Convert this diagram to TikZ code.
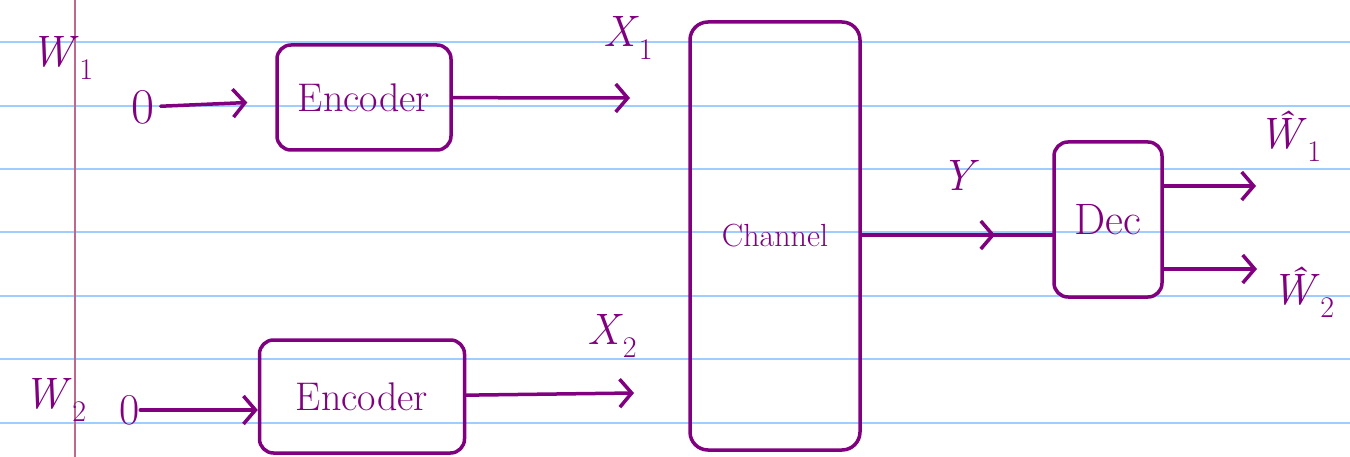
\documentclass[tikz,border=0pt]{standalone}
\usetikzlibrary{arrows.meta,decorations.markings}
\definecolor{ink}{RGB}{128,0,128}
\definecolor{ruled}{RGB}{160,205,255}
\definecolor{margin}{RGB}{190,105,140}
\newcommand{\lblsub}[1]{\raisebox{-0.3em}{\fontsize{30}{30}\selectfont #1}}
\tikzset{
  pen/.style={draw=ink, line width=3.5pt, line cap=round, line join=round},
  box/.style={pen, rectangle, inner sep=0pt, text=ink},
  lbl/.style={text=ink, inner sep=0pt, font=\fontsize{44}{44}\selectfont},
  wordtxt/.style={font=\fontsize{40}{40}\selectfont},
  arr/.style={pen, -{Straight Barb[length=12pt,width=28pt,line width=3.5pt]}},
}
\begin{document}
\begin{tikzpicture}[x=1pt,y=-1pt]
\useasboundingbox (0,0) rectangle (1350,457);
\fill[white] (0,0) rectangle (1350,457);
% ruled paper
\foreach \yy in {42.5,106,169,232.5,296,359,422.5}
  \draw[ruled, line width=2pt] (0,\yy) -- (1350,\yy);
\draw[margin, line width=1.5pt] (75,0) -- (75,457);

% top branch
\node[lbl] (w1) at (62,58) {\textit{W}\lblsub{1}};
\node[lbl, font=\fontsize{50}{50}\selectfont] (in1) at (143,107) {0};
\node[box, minimum width=174pt, minimum height=105pt, rounded corners=14pt, wordtxt] (enc1) at (364,97.5) {\raisebox{-12pt}{Encoder}};
\node[lbl] (x1) at (628,38) {\textit{X}\lblsub{1}};
\coordinate (a1) at (630,98);
\draw[arr, shorten <=6pt, shorten >=28pt] (in1) -- (enc1);
\draw[arr] (enc1) -- (a1);

% bottom branch
\node[lbl] (w2) at (55,400) {\textit{W}\lblsub{2}};
\node[lbl] (in2) at (130,410) {0};
\node[box, minimum width=205pt, minimum height=113pt, rounded corners=14pt, wordtxt] (enc2) at (362,396.5) {Encoder};
\node[lbl] (x2) at (612,336) {\textit{X}\lblsub{2}};
\coordinate (a2) at (634,393);
\draw[arr] (in2) -- (in2 -| enc2.west);
\draw[arr] (enc2) -- (a2);

% channel
\node[box, minimum width=170pt, minimum height=428pt, rounded corners=18pt, font=\fontsize{32}{32}\selectfont] (ch) at (775,236) {Channel};
\node[lbl] (y) at (960,175) {\textit{Y}};

% decoder
\node[box, minimum width=108pt, minimum height=155pt, rounded corners=14pt, font=\fontsize{44}{44}\selectfont] (dec) at (1108,219.5) {\raisebox{-10pt}{Dec}};
\draw[pen, decoration={markings, mark=at position 0.7 with {\arrow{Straight Barb[length=12pt,width=28pt,line width=3.5pt]}}}, postaction={decorate}] (ch.east |- 0,235) -- (dec.west |- 0,235);

\node[lbl] (wh1) at (1290,136) {\textit{\^W}\lblsub{1}};
\node[lbl] (wh2) at (1303,292) {\textit{\^W}\lblsub{2}};
\coordinate (o1) at (1256,186);
\coordinate (o2) at (1257,269);
\draw[arr] (dec.east |- o1) -- (o1);
\draw[arr] (dec.east |- o2) -- (o2);
\end{tikzpicture}
\end{document}
